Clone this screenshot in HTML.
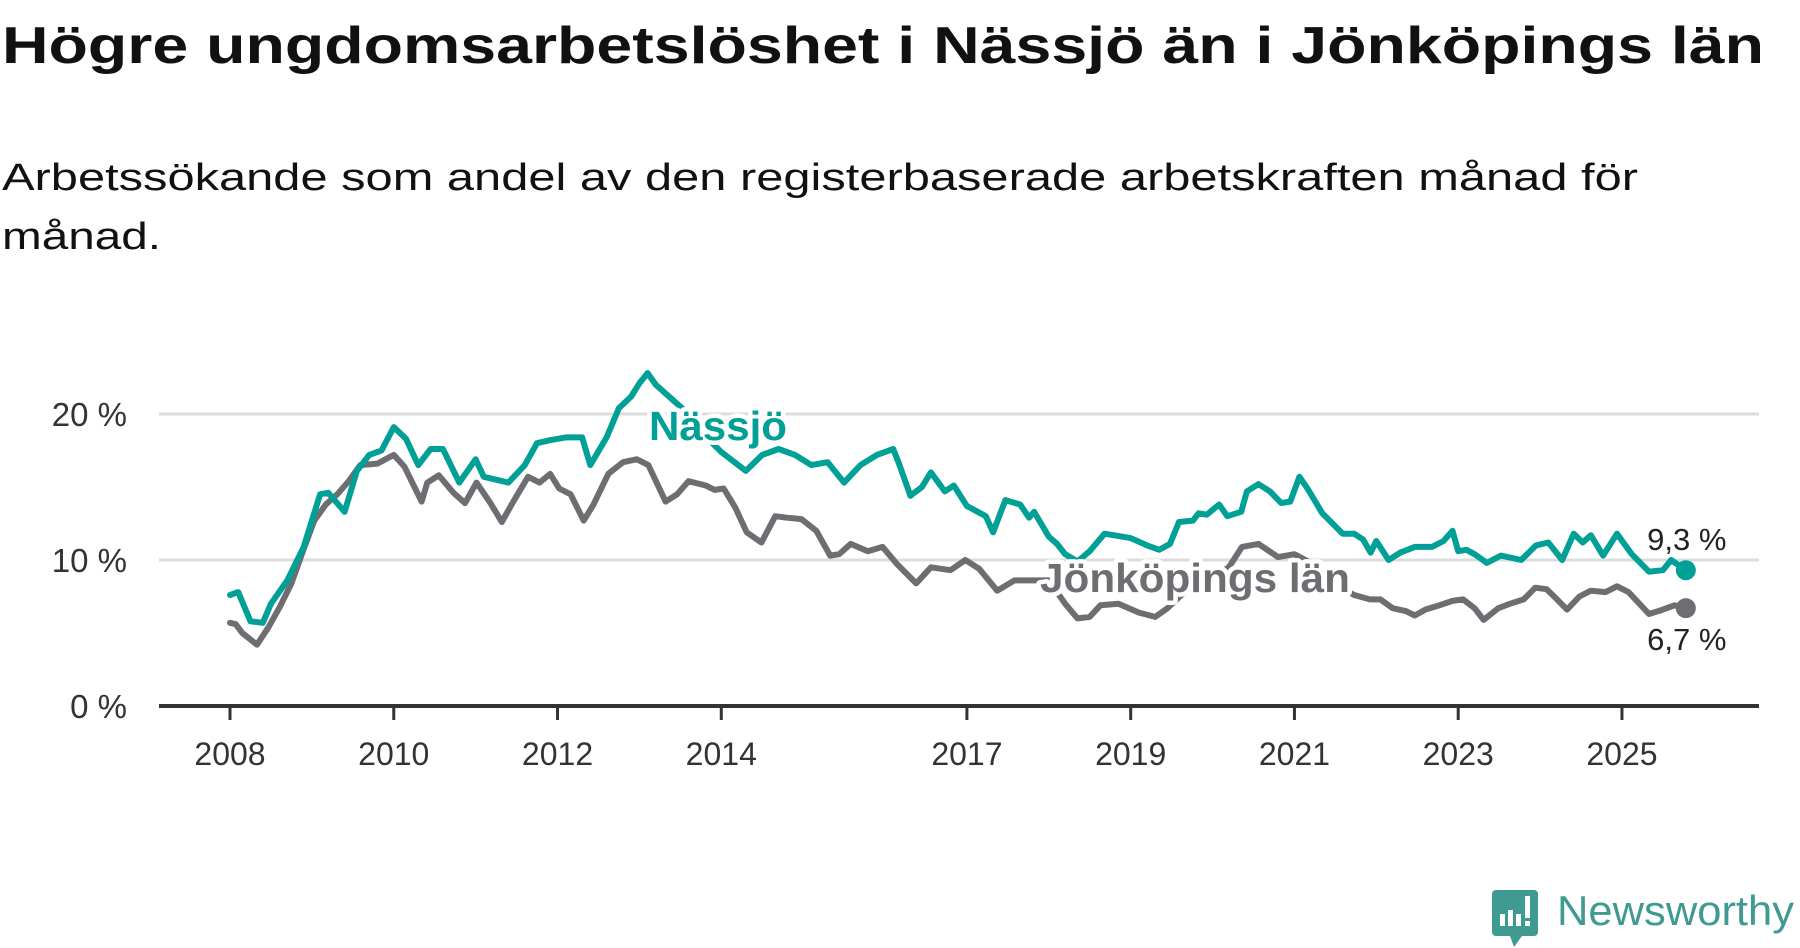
<!DOCTYPE html>
<html><head><meta charset="utf-8"><style>
html,body{margin:0;padding:0;background:#fff;}
svg{display:block;font-family:"Liberation Sans",sans-serif;}
</style></head><body>
<svg id="chart" width="1800" height="948" viewBox="0 0 1800 948">
<text x="2" y="63" font-size="52" font-weight="bold" fill="#111" textLength="1762" lengthAdjust="spacingAndGlyphs">Högre ungdomsarbetslöshet i Nässjö än i Jönköpings län</text>
<text x="2" y="190" font-size="38" fill="#111" textLength="1636" lengthAdjust="spacingAndGlyphs">Arbetssökande som andel av den registerbaserade arbetskraften månad för</text>
<text x="2" y="249" font-size="38" fill="#111" textLength="159" lengthAdjust="spacingAndGlyphs">månad.</text>
<g id="grid"></g><g id="axes"></g><g id="lines"></g><g id="labels"></g>
<g>
<path d="M1496 890 h38 a4 4 0 0 1 4 4 v38 a4 4 0 0 1 -4 4 h-12 l-8 11 l-4 -11 h-14 a4 4 0 0 1 -4 -4 v-38 a4 4 0 0 1 4 -4z" fill="#3f9a92"/>
<rect x="1500" y="914" width="5" height="12" fill="#fff"/><rect x="1508" y="910" width="5" height="16" fill="#fff"/><rect x="1516" y="914" width="5" height="12" fill="#fff"/><rect x="1525" y="896" width="5" height="22" fill="#fff"/><rect x="1525" y="921" width="5" height="5" fill="#fff"/>
<text x="1557" y="925" font-size="42" fill="#3f9a92" textLength="237" lengthAdjust="spacingAndGlyphs">Newsworthy</text>
</g>
</svg>
<script>
const yTicks=[0,10,20];
const xTickYears=[2008,2010,2012,2014,2017,2019,2021,2023,2025];
const nassjoX=[2008.0,2008.1,2008.25,2008.4,2008.5,2008.7,2008.9,2009.1,2009.2,2009.4,2009.55,2009.7,2009.85,2010.0,2010.15,2010.3,2010.45,2010.6,2010.8,2011.0,2011.1,2011.4,2011.6,2011.75,2011.9,2012.1,2012.3,2012.4,2012.6,2012.75,2012.9,2013.0,2013.1,2013.2,2013.4,2013.6,2013.8,2014.0,2014.3,2014.5,2014.7,2014.9,2015.1,2015.3,2015.5,2015.7,2015.9,2016.1,2016.17,2016.31,2016.45,2016.56,2016.73,2016.84,2017.0,2017.23,2017.32,2017.47,2017.65,2017.76,2017.82,2018.0,2018.1,2018.2,2018.35,2018.5,2018.68,2018.89,2019.0,2019.2,2019.35,2019.48,2019.59,2019.76,2019.83,2019.93,2020.08,2020.18,2020.35,2020.42,2020.56,2020.7,2020.84,2020.95,2021.06,2021.16,2021.34,2021.59,2021.73,2021.84,2021.93,2022.0,2022.15,2022.29,2022.47,2022.68,2022.82,2022.93,2023.0,2023.1,2023.2,2023.35,2023.52,2023.77,2023.95,2024.1,2024.27,2024.41,2024.52,2024.62,2024.77,2024.94,2025.12,2025.33,2025.5,2025.6,2025.78];
const nassjoVals=[7.6,7.8,5.8,5.7,7.0,8.6,10.9,14.5,14.6,13.3,16.1,17.2,17.5,19.1,18.3,16.5,17.6,17.6,15.3,16.9,15.7,15.3,16.5,18.0,18.2,18.4,18.4,16.5,18.4,20.4,21.2,22.1,22.8,22.0,21.0,20.0,18.5,17.4,16.1,17.2,17.6,17.2,16.5,16.7,15.3,16.5,17.2,17.6,16.6,14.4,15.0,16.0,14.7,15.1,13.7,13.0,11.9,14.1,13.8,12.9,13.3,11.6,11.1,10.4,9.9,10.6,11.8,11.6,11.5,11.0,10.7,11.1,12.6,12.7,13.2,13.1,13.8,13.0,13.3,14.7,15.2,14.7,13.9,14.0,15.7,14.9,13.2,11.8,11.8,11.4,10.5,11.3,10.0,10.5,10.9,10.9,11.3,12.0,10.6,10.7,10.4,9.8,10.3,10.0,11.0,11.2,10.0,11.8,11.2,11.7,10.3,11.8,10.4,9.2,9.3,10.0,9.3];
const jkpgX=[2008.0,2008.07,2008.15,2008.33,2008.47,2008.61,2008.75,2008.89,2009.03,2009.17,2009.31,2009.45,2009.59,2009.8,2010.0,2010.13,2010.34,2010.41,2010.55,2010.73,2010.87,2011.01,2011.18,2011.32,2011.46,2011.64,2011.78,2011.91,2012.02,2012.16,2012.32,2012.44,2012.62,2012.8,2012.97,2013.11,2013.32,2013.46,2013.6,2013.81,2013.92,2014.03,2014.17,2014.31,2014.49,2014.66,2014.8,2014.98,2015.16,2015.33,2015.44,2015.58,2015.79,2015.97,2016.15,2016.38,2016.56,2016.8,2016.98,2017.15,2017.37,2017.58,2017.86,2018.0,2018.2,2018.35,2018.5,2018.63,2018.85,2019.1,2019.3,2019.45,2019.6,2019.8,2020.0,2020.2,2020.36,2020.56,2020.8,2021.0,2021.2,2021.4,2021.6,2021.73,2021.92,2022.05,2022.2,2022.36,2022.47,2022.6,2022.77,2022.93,2023.06,2023.2,2023.31,2023.49,2023.63,2023.8,2023.94,2024.08,2024.19,2024.33,2024.48,2024.62,2024.8,2024.94,2025.08,2025.33,2025.5,2025.64,2025.78];
const jkpgVals=[5.7,5.6,5.0,4.2,5.4,6.8,8.4,10.6,12.7,13.8,14.5,15.4,16.5,16.6,17.2,16.4,14.0,15.3,15.8,14.6,13.9,15.3,13.9,12.6,14.0,15.7,15.3,15.9,14.9,14.5,12.7,13.8,15.9,16.7,16.9,16.5,14.0,14.5,15.4,15.1,14.8,14.9,13.6,11.9,11.2,13.0,12.9,12.8,12.0,10.3,10.4,11.1,10.6,10.9,9.7,8.4,9.5,9.3,10.0,9.4,7.9,8.6,8.6,8.6,7.0,6.0,6.1,6.9,7.0,6.4,6.1,6.7,7.5,8.5,8.8,9.5,10.9,11.1,10.2,10.4,9.8,9.0,8.0,7.6,7.3,7.3,6.7,6.5,6.2,6.6,6.9,7.2,7.3,6.7,5.9,6.7,7.0,7.3,8.1,8.0,7.4,6.6,7.5,7.9,7.8,8.2,7.8,6.3,6.6,6.9,6.7];
const endLabels=["9,3 %","6,7 %"];

const NS="http://www.w3.org/2000/svg";
const X0=159,X1=1759,Y0=706;
function xs(y){return 230+(y-2008)*81.88;}
function ys(v){return Y0-v*14.6;}
function mk(tag,attrs,parent,txt){const e=document.createElementNS(NS,tag);for(const k in attrs)e.setAttribute(k,attrs[k]);if(txt!==undefined)e.textContent=txt;parent.appendChild(e);return e;}
const grid=document.getElementById('grid'),axes=document.getElementById('axes'),lines=document.getElementById('lines'),labels=document.getElementById('labels');
yTicks.forEach(t=>{
  if(t>0){const g=mk('line',{x1:X0,x2:X1,y1:ys(t),y2:ys(t),stroke:'#dcdcdc','stroke-width':3},grid);
  
  }
  const l=mk('text',{x:127,y:ys(t)+12,'text-anchor':'end','font-size':33,fill:'#333'},axes,t+' %');
  
  
});
const ax=mk('line',{x1:X0,x2:X1,y1:Y0,y2:Y0,stroke:'#333','stroke-width':4},axes);


xTickYears.forEach(yr=>{
  const tk=mk('line',{x1:xs(yr),x2:xs(yr),y1:Y0,y2:Y0+14,stroke:'#333','stroke-width':3},axes);
  
  
  const l=mk('text',{x:xs(yr),y:765,'text-anchor':'middle','font-size':32,fill:'#333'},axes,String(yr));
  
  
});
function drawSeries(xArr,vArr,color,name){
  const d=xArr.map((x,i)=>(i?'L':'M')+xs(x).toFixed(1)+' '+ys(vArr[i]).toFixed(1)).join(' ');
  const p=mk('path',{d:d,fill:'none',stroke:color,'stroke-width':6,'stroke-linejoin':'round','stroke-linecap':'round'},lines);
  
  
  const n=xArr.length-1;
  const c=mk('circle',{cx:xs(xArr[n]),cy:ys(vArr[n]),r:10,fill:color},lines);
  
  
}
drawSeries(jkpgX,jkpgVals,'#6e6d72','jonkoping');
drawSeries(nassjoX,nassjoVals,'#00a096','nassjo');
function lbl(x,y,txt,color,name,w){
  const t=mk('text',{x:x,y:y,'font-size':41,'font-weight':'bold',fill:color,stroke:'#fff','stroke-width':9,'paint-order':'stroke','stroke-linejoin':'round',textLength:w,lengthAdjust:'spacingAndGlyphs'},labels,txt);
  
  
}
lbl(649,440,'Nässjö','#00a096','nassjo-series-label',138);
lbl(1040,592,'Jönköpings län','#6e6d72','jonkoping-series-label',310);
const nl=nassjoX.length-1,jl=jkpgX.length-1;
const e1=mk('text',{x:xs(nassjoX[nl])+1,y:ys(nassjoVals[nl])-20,'text-anchor':'middle','font-size':31,fill:'#222',stroke:'#fff','stroke-width':6,'paint-order':'stroke'},labels,endLabels[0]);


const e2=mk('text',{x:xs(jkpgX[jl])+1,y:ys(jkpgVals[jl])+42,'text-anchor':'middle','font-size':31,fill:'#222',stroke:'#fff','stroke-width':6,'paint-order':'stroke'},labels,endLabels[1]);


</script>
</body></html>
